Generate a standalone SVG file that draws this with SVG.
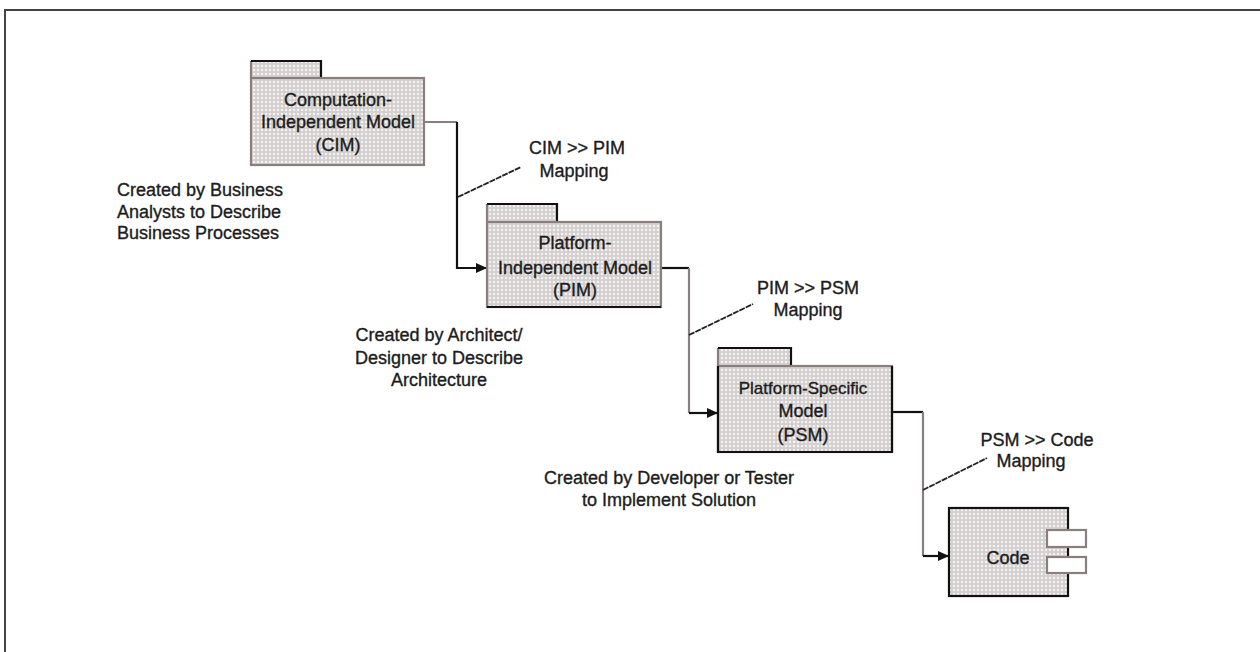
<svg xmlns="http://www.w3.org/2000/svg" width="1260" height="652" viewBox="0 0 1260 652">
<style>
  text { font-family: "Liberation Sans", Arial, sans-serif; font-size: 18px; fill: #1c1c1c; stroke: #1c1c1c; stroke-width: 0.35; }
  .c { text-anchor: middle; }
  .gray { stroke: #8a7f7f; stroke-width: 2.2; fill: none; }
  .blk { stroke: #111; stroke-width: 2.2; fill: none; }
  .map { stroke: #222; stroke-width: 1.8; fill: none; stroke-dasharray: 6 1; }
</style>
<defs>
  <pattern id="dots" width="4" height="4" patternUnits="userSpaceOnUse">
    <rect width="4" height="4" fill="#d6d1d1"/>
    <rect x="1" y="1" width="2" height="2" fill="#f5f3f3"/>
  </pattern>
  <marker id="arr" markerWidth="12" markerHeight="12" refX="10" refY="6" orient="auto" markerUnits="userSpaceOnUse">
    <path d="M0,1 L11,6 L0,11 Z" fill="#111"/>
  </marker>
</defs>
<rect width="1260" height="652" fill="#ffffff"/>
<path d="M5,652 V10 H1260" fill="none" stroke="#444" stroke-width="2"/>

<g id="connectors">
  <path class="gray" d="M424,122 H457"/>
  <path class="blk" d="M457,122 V268 H486" marker-end="url(#arr)"/>
  <path class="blk" d="M661,268 H689"/>
  <path class="gray" d="M689,268 V413"/>
  <path class="blk" d="M689,413 H717" marker-end="url(#arr)"/>
  <path class="blk" d="M892,412 H923"/>
  <path class="gray" d="M923,412 V556"/>
  <path class="blk" d="M923,556 H948" marker-end="url(#arr)"/>
  <path class="map" d="M458,197 L521,167"/>
  <path class="map" d="M689,335 L753,304"/>
  <path class="map" d="M923,490 L987,458"/>
</g>

<g id="cim">
  <rect x="251" y="61" width="70" height="17" fill="url(#dots)"/>
  <path class="gray" d="M251,78 V61"/>
  <path class="blk" d="M251,61 H321 V78"/>
  <rect x="251" y="78" width="173" height="87" fill="url(#dots)" stroke="#8a7f7f" stroke-width="2.2"/>
  <text class="c" x="338" y="106">Computation-</text>
  <text class="c" x="338" y="128">Independent Model</text>
  <text class="c" x="338" y="151">(CIM)</text>
</g>

<g id="pim">
  <rect x="487" y="204" width="70" height="18" fill="url(#dots)"/>
  <path class="gray" d="M487,222 V204"/>
  <path class="blk" d="M487,204 H557 V222"/>
  <rect x="487" y="222" width="174" height="85" fill="url(#dots)" stroke="#8a7f7f" stroke-width="2.2"/>
  <path class="blk" d="M487,307 H661"/>
  <text class="c" x="575" y="249">Platform-</text>
  <text class="c" x="575" y="274">Independent Model</text>
  <text class="c" x="575" y="296">(PIM)</text>
</g>

<g id="psm">
  <rect x="718" y="348" width="73" height="18" fill="url(#dots)"/>
  <path class="gray" d="M718,366 V348"/>
  <path class="blk" d="M718,348 H791 V366"/>
  <rect x="718" y="366" width="174" height="86" fill="url(#dots)" stroke="#8a7f7f" stroke-width="2.2"/>
  <path class="blk" d="M718,366 V452 H892 V366"/>
  <text class="c" x="803" y="394" style="font-size:17px">Platform-Specific</text>
  <text class="c" x="803" y="417">Model</text>
  <text class="c" x="803" y="441">(PSM)</text>
</g>

<g id="code">
  <rect x="949" y="508" width="119" height="88" fill="url(#dots)" stroke="#111" stroke-width="2.2"/>
  <rect x="1047" y="530" width="39" height="17" fill="#ffffff" stroke="#8a7f7f" stroke-width="2.2"/>
  <rect x="1047" y="557" width="39" height="16" fill="#ffffff" stroke="#8a7f7f" stroke-width="2.2"/>
  <text class="c" x="1008" y="564">Code</text>
</g>

<g id="label-cim-pim">
  <text class="c" x="577" y="154">CIM &gt;&gt; PIM</text>
  <text class="c" x="574" y="177">Mapping</text>
</g>
<g id="label-pim-psm">
  <text class="c" x="808" y="294">PIM &gt;&gt; PSM</text>
  <text class="c" x="808" y="316">Mapping</text>
</g>
<g id="label-psm-code">
  <text class="c" x="1037" y="446">PSM &gt;&gt; Code</text>
  <text class="c" x="1031" y="467">Mapping</text>
</g>

<g id="note-cim">
  <text x="117" y="196">Created by Business</text>
  <text x="117" y="218">Analysts to Describe</text>
  <text x="117" y="239">Business Processes</text>
</g>
<g id="note-pim">
  <text class="c" x="439" y="341">Created by Architect/</text>
  <text class="c" x="439" y="364">Designer to Describe</text>
  <text class="c" x="439" y="386">Architecture</text>
</g>
<g id="note-psm">
  <text class="c" x="669" y="484">Created by Developer or Tester</text>
  <text class="c" x="669" y="506">to Implement Solution</text>
</g>
</svg>
